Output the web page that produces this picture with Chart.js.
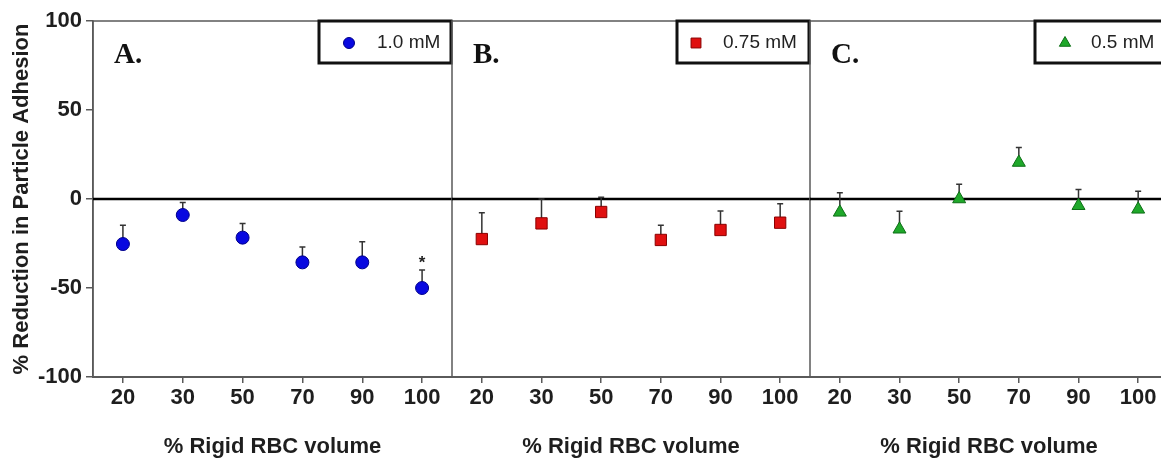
<!DOCTYPE html>
<html>
<head>
<meta charset="utf-8">
<script src="https://cdn.jsdelivr.net/npm/chart.js@4.4.1/dist/chart.umd.min.js"></script>
<style>
  body { margin: 0; overflow: hidden; background: #fff; }
  #wrap { position: relative; width: 1161px; height: 458px; overflow: hidden; }
  canvas { position: absolute; top: 0; }
</style>
</head>
<body>
<div id="wrap">
  <canvas id="panelA" width="460" height="458" style="left:0px"></canvas>
  <canvas id="panelB" width="378" height="458" style="left:442px"></canvas>
  <canvas id="panelC" width="378" height="458" style="left:800px"></canvas>
</div>
<script>
const categories = ["20", "30", "50", "70", "90", "100"]
const yTicks = [-100, -50, 0, 50, 100]

// panel A - 1.0 mM
const meanA = [-25.3, -9, -21.7, -35.6, -35.6, -50]
const errA = [10.5, 7.1, 8, 8.6, 11.6, 10.1]
const sigA = ["", "", "", "", "", "*"]

// panel B - 0.75 mM
const meanB = [-22.5, -13.7, -7.3, -23, -17.4, -13.3]
const errB = [14.8, 13.7, 8.3, 8.2, 10.7, 10.7]
const sigB = ["", "", "", "", "", ""]

// panel C - 0.5 mM
const meanC = [-7.5, -17, 0, 20.5, -3.8, -5.8]
const errC = [11, 10.1, 8.3, 8.5, 9.2, 10.1]
const sigC = ["", "", "", "", "", ""]

const panelLetters = ["A.", "B.", "C."]
const seriesNames = ["1.0 mM", "0.75 mM", "0.5 mM"]

const axisFont = { family: "Arial, 'Liberation Sans', sans-serif", size: 22, weight: "bold" }
const frameColor = "#5a5a5a"

// frame (top + left), zero line
const framePlugin = {
    id: "frame",
    beforeDatasetsDraw(chart) {
        const { ctx, chartArea: a, scales } = chart
        ctx.save()
        ctx.strokeStyle = frameColor
        ctx.lineWidth = 1.5
        ctx.beginPath()
        ctx.moveTo(a.left, a.bottom)
        ctx.lineTo(a.left, a.top)
        ctx.lineTo(a.right + 1, a.top)
        ctx.stroke()
        const y0 = scales.y.getPixelForValue(0)
        ctx.strokeStyle = "#000"
        ctx.lineWidth = 2.5
        ctx.beginPath()
        ctx.moveTo(a.left, y0)
        ctx.lineTo(a.right + 1, y0)
        ctx.stroke()
        ctx.restore()
    }
}

// upper error bars + significance marks
const errorPlugin = {
    id: "errors",
    beforeDatasetsDraw(chart) {
        const { ctx, scales } = chart
        const ds = chart.data.datasets[0]
        const meta = chart.getDatasetMeta(0)
        ctx.save()
        ctx.strokeStyle = "#333"
        ctx.lineWidth = 1.5
        meta.data.forEach((pt, i) => {
            const top = scales.y.getPixelForValue(ds.data[i] + ds.errors[i])
            ctx.beginPath()
            ctx.moveTo(pt.x, pt.y)
            ctx.lineTo(pt.x, top)
            ctx.moveTo(pt.x - 3, top)
            ctx.lineTo(pt.x + 3, top)
            ctx.stroke()
            if (ds.marks[i]) {
                ctx.fillStyle = "#222"
                ctx.font = "bold 17px Arial"
                ctx.textAlign = "center"
                ctx.textBaseline = "middle"
                ctx.fillText(ds.marks[i], pt.x, top - 7)
            }
        })
        ctx.restore()
    }
}

// boxed legend and panel letter
const legendPlugin = {
    id: "boxLegend",
    afterDraw(chart) {
        const { ctx, chartArea: a } = chart
        const ds = chart.data.datasets[0]
        const opts = chart.options.plugins.boxLegend
        const w = 132, h = 42
        const left = a.right - w - 1
        const top = a.top
        ctx.save()
        ctx.fillStyle = "#fff"
        ctx.fillRect(left, top, w, h)
        ctx.strokeStyle = "#111"
        ctx.lineWidth = 3
        ctx.strokeRect(left, top, w, h)

        ctx.fillStyle = ds.backgroundColor
        ctx.strokeStyle = ds.borderColor
        ctx.lineWidth = 1
        Chart.helpers.drawPoint(ctx, { pointStyle: ds.pointStyle, radius: ds.pointRadius - 1, borderWidth: 1, rotation: 0 }, left + opts.markX, top + 22)

        ctx.fillStyle = "#222"
        ctx.font = "19px Arial"
        ctx.textAlign = "left"
        ctx.textBaseline = "middle"
        ctx.fillText(ds.label, left + opts.textX, top + 22)

        ctx.font = "bold 29px 'Times New Roman', 'Liberation Serif', serif"
        ctx.fillStyle = "#111"
        ctx.textBaseline = "alphabetic"
        ctx.fillText(opts.letter, a.left + 21, a.top + 42)
        ctx.restore()
    }
}

const makePanel = (id, idx, mean, err, sig, style, showY, padLeft, legendPos) => {
    const ctx = document.getElementById(id).getContext("2d")
    return new Chart(ctx, {
        type: "line",
        data: {
            labels: categories,
            datasets: [{
                label: seriesNames[idx],
                data: mean,
                errors: err,
                marks: sig,
                showLine: false,
                pointStyle: style.shape,
                pointRadius: style.radius,
                pointHoverRadius: style.radius,
                backgroundColor: style.fill,
                borderColor: style.edge,
                pointBorderWidth: 1
            }]
        },
        options: {
            responsive: false,
            animation: false,
            layout: { padding: { top: 21, left: padLeft, right: showY ? 8 : 10, bottom: 0 } },
            plugins: {
                legend: { display: false },
                tooltip: { enabled: false },
                boxLegend: { letter: panelLetters[idx], markX: legendPos[0], textX: legendPos[1] }
            },
            scales: {
                x: {
                    type: "category",
                    offset: true,
                    grid: { display: true, drawOnChartArea: false, tickLength: 6, color: frameColor, lineWidth: 1.5 },
                    border: { display: true, color: frameColor, width: 2 },
                    ticks: { font: axisFont, color: "#1e1e1e", padding: 2, maxRotation: 0 },
                    title: { display: true, text: "% Rigid RBC volume", font: axisFont, color: "#1e1e1e", padding: { top: 0, bottom: -2 } },
                    afterFit: s => { s.height = 81 }
                },
                y: {
                    display: showY,
                    min: -100,
                    max: 100,
                    afterBuildTicks: s => { s.ticks = yTicks.map(v => ({ value: v })) },
                    grid: { display: true, drawOnChartArea: false, tickLength: 7, color: frameColor, lineWidth: 1.5 },
                    border: { display: true, color: frameColor, width: 1.5 },
                    ticks: { font: axisFont, color: "#1e1e1e", padding: 4 },
                    title: { display: true, text: "% Reduction in Particle Adhesion", font: axisFont, color: "#1e1e1e", padding: { top: 9, bottom: 0 } },
                    afterFit: s => { s.width = showY ? 93 : 0 }
                }
            }
        },
        plugins: [framePlugin, errorPlugin, legendPlugin]
    })
}

makePanel("panelA", 0, meanA, errA, sigA, { shape: "circle", radius: 6.5, fill: "#0808e0", edge: "#00008a" }, true, 0, [30, 58])
makePanel("panelB", 1, meanB, errB, sigB, { shape: "rect", radius: 8, fill: "#e01010", edge: "#8a0000" }, false, 10, [19, 46])
makePanel("panelC", 2, meanC, errC, sigC, { shape: "triangle", radius: 7.5, fill: "#1fa82a", edge: "#0d6e16" }, false, 10, [30, 56])
</script>
</body>
</html>
